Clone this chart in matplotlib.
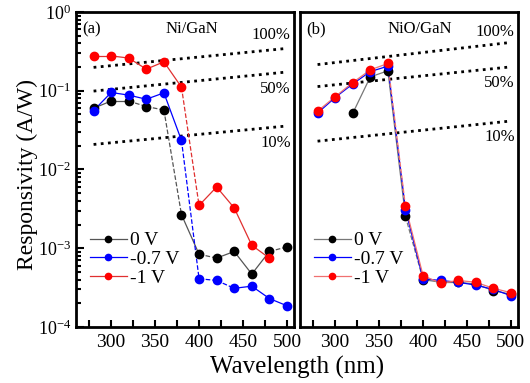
import numpy as np
import matplotlib
matplotlib.use("Agg")
import matplotlib.pyplot as plt
from matplotlib.ticker import LogLocator, LogFormatterMathtext, MultipleLocator, NullFormatter

plt.rcParams['font.family'] = ['Liberation Serif', 'DejaVu Serif']
plt.rcParams['mathtext.fontset'] = 'custom'
plt.rcParams['mathtext.rm'] = 'Liberation Serif'

wl = [280, 300, 320, 340, 360, 380, 400, 420, 440, 460, 480, 500]

# panel (a) Ni/GaN
a_0v = [0.060, 0.074, 0.074, 0.063, 0.057, 0.00267, 0.00084, 0.00075, 0.00091, 0.00047, 0.00091, 0.00104]
a_07v = [0.056, 0.095, 0.088, 0.078, 0.094, 0.0234, 0.00041, 0.00039, 0.00031, 0.00033, 0.00023, 0.000186]
a_1v = [0.277, 0.277, 0.26, 0.188, 0.233, 0.111, 0.0035, 0.0060, 0.00325, 0.00109, 0.00075]

# panel (b) NiO/GaN
b_wl0 = [320, 340, 360, 380, 400, 420, 440, 460, 480, 500]
b_0v = [0.0516, 0.15, 0.179, 0.00254, 0.00040, 0.00037, 0.00037, 0.00035, 0.00029, 0.00026]
b_07v = [0.052, 0.082, 0.122, 0.175, 0.205, 0.0031, 0.00041, 0.00039, 0.00037, 0.00034, 0.00030, 0.00025]
b_1v = [0.055, 0.084, 0.127, 0.184, 0.222, 0.0034, 0.00045, 0.00036, 0.00039, 0.00037, 0.00031, 0.000273]

# dotted EQE guide lines: value at 280 nm and at 500 nm
eqe_labels = ["100%", "50%", "10%"]
a_eqe = [(0.198, 0.345), (0.099, 0.173), (0.0208, 0.0357)]
b_eqe = [(0.215, 0.411), (0.113, 0.201), (0.0229, 0.0413)]
eqe_x = [280, 500]

fig = plt.figure(figsize=(5.30, 3.83), dpi=100)
ax1 = fig.add_axes([0.1434, 0.1462, 0.4113, 0.8225])
ax2 = fig.add_axes([0.566, 0.1462, 0.4113, 0.8225])


def draw_series(ax, x, y, color, lcolor, dashed, label):
    for i in range(len(x) - 1):
        ls = '--' if i in dashed else '-'
        ax.plot(x[i:i + 2], y[i:i + 2], ls=ls, color=lcolor, lw=0.9, zorder=2)
    ax.plot(x, y, 'o', ms=6.0, mfc=color, mec=color, zorder=3)
    ax.plot([], [], '-o', color=lcolor, mfc=color, mec=color, ms=4.5, lw=0.9, label=label)


# dashed segment indices (start point index)
draw_series(ax1, wl, a_0v, 'black', '#555555', [2, 3, 4, 6, 10], '0 V')
draw_series(ax1, wl, a_07v, 'blue', 'blue', [5, 6, 7], '-0.7 V')
draw_series(ax1, wl[:len(a_1v)], a_1v, 'red', '#e03030', [5], '-1 V')

draw_series(ax2, b_wl0, b_0v, 'black', '#777777', [3], '0 V')
draw_series(ax2, wl, b_07v, 'blue', 'blue', [4], '-0.7 V')
draw_series(ax2, wl, b_1v, 'red', '#f07070', [4], '-1 V')

for ax, eqe in ((ax1, a_eqe), (ax2, b_eqe)):
    for lo, hi in eqe:
        ax.plot(eqe_x, [lo, hi], ls=(0, (1, 1.6)), color='black', lw=2.0, zorder=1)

# text labels
ax1.text(0.03, 0.97, "(a)", transform=ax1.transAxes, ha='left', va='top', fontsize=12)
ax1.text(0.53, 0.97, "Ni/GaN", transform=ax1.transAxes, ha='center', va='top', fontsize=12)
ax2.text(0.03, 0.97, "(b)", transform=ax2.transAxes, ha='left', va='top', fontsize=12)
ax2.text(0.55, 0.97, "NiO/GaN", transform=ax2.transAxes, ha='center', va='top', fontsize=12)

a_lab_y = [0.927, 0.756, 0.584]
b_lab_y = [0.937, 0.775, 0.603]
for lab, ya, yb in zip(eqe_labels, a_lab_y, b_lab_y):
    ax1.text(0.985, ya, lab, transform=ax1.transAxes, ha='right', va='center', fontsize=12)
    ax2.text(0.985, yb, lab, transform=ax2.transAxes, ha='right', va='center', fontsize=12)

for ax in (ax1, ax2):
    ax.set_yscale('log')
    ax.set_ylim(1e-4, 1e0)
    ax.set_xlim(260, 508)
    ax.xaxis.set_major_locator(MultipleLocator(50))
    ax.xaxis.set_minor_locator(MultipleLocator(25))
    ax.tick_params(axis='both', which='both', direction='in', top=False, right=False,
                   width=1.5)
    ax.tick_params(axis='x', which='both', length=5, labelsize=14, pad=5)
    ax.tick_params(axis='y', which='major', length=6, labelsize=13)
    ax.tick_params(axis='y', which='minor', length=3.5)
    for s in ax.spines.values():
        s.set_linewidth(2.0)
    ax.legend(loc='lower left', bbox_to_anchor=(0.0, 0.085), frameon=False, fontsize=14,
              handlelength=1.9, handletextpad=0.2, labelspacing=0.05, borderaxespad=0.3)

ax1.yaxis.set_major_locator(LogLocator(base=10, numticks=10))
ax1.yaxis.set_minor_locator(LogLocator(base=10, subs=np.arange(2, 10), numticks=10))
ax1.yaxis.set_major_formatter(LogFormatterMathtext())
ax1.yaxis.set_minor_formatter(NullFormatter())

ax2.tick_params(axis='y', which='both', left=False, labelleft=False)

fig.text(27 / 530, 1 - 174 / 383, "Responsivity (A/W)", rotation=90,
         ha='center', va='center', fontsize=17)
fig.text(0.56, 0.01, "Wavelength (nm)", ha='center', va='bottom', fontsize=18)

fig.savefig("out.png", dpi=100)
